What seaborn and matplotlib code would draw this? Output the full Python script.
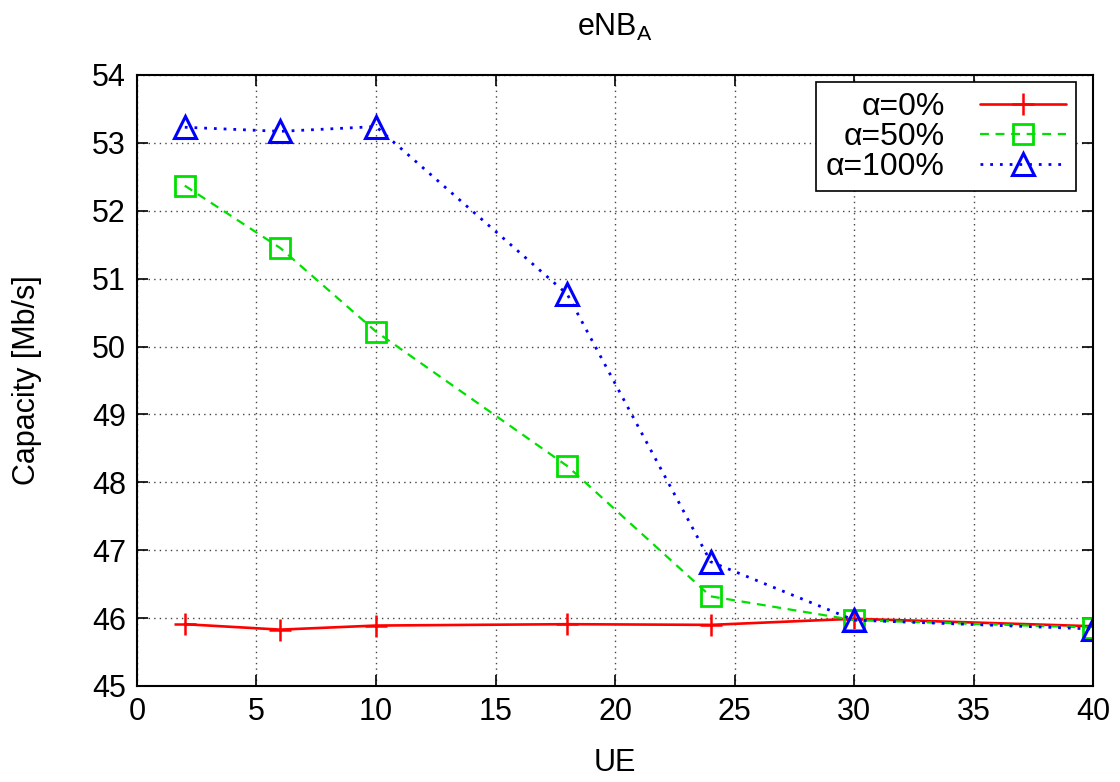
import seaborn as sns
import matplotlib
matplotlib.use("Agg")
import matplotlib.pyplot as plt
import pandas as pd

ue = [2, 6, 10, 18, 24, 30, 40]
cap_a0 = [45.91, 45.83, 45.89, 45.91, 45.90, 45.99, 45.88]
cap_a50 = [52.37, 51.45, 50.22, 48.24, 46.32, 45.97, 45.86]
cap_a100 = [53.23, 53.17, 53.24, 50.77, 46.83, 45.97, 45.84]
labels = ["\u03b1=0%", "\u03b1=50%", "\u03b1=100%"]

sns.set_theme(style="white")
plt.rcParams["font.family"] = ["Liberation Sans", "DejaVu Sans"]
plt.rcParams["mathtext.default"] = "regular"
plt.rcParams["text.color"] = "black"
plt.rcParams["axes.labelcolor"] = "black"

df = pd.DataFrame({"UE": ue * 3,
                   "cap": cap_a0 + cap_a50 + cap_a100,
                   "series": [labels[0]] * 7 + [labels[1]] * 7 + [labels[2]] * 7})

fig = plt.figure(figsize=(11.2, 7.82), dpi=100)
ax = fig.add_axes([0.1223, 0.1228, 0.8537, 0.7813])

styles = {
    labels[0]: dict(color="#ff0000", ls="-", marker="+", ms=16, mew=1.8, lw=1.9),
    labels[1]: dict(color="#00e000", ls=(0, (4, 3)), marker="s", ms=15, mew=2.0, mfc="none", lw=1.6),
    labels[2]: dict(color="#0000ff", ls=(0, (1, 2.5)), marker="^", ms=16, mew=2.2, mfc="none", lw=2.0),
}
for name in labels:
    st = styles[name]
    sns.lineplot(data=df[df.series == name], x="UE", y="cap", ax=ax, label=name,
                 color=st["color"], linestyle=st["ls"], marker=st["marker"],
                 markersize=st["ms"], markeredgewidth=st["mew"],
                 markerfacecolor=st.get("mfc", st["color"]),
                 markeredgecolor=st["color"], linewidth=st["lw"])

ax.set_xlim(0, 40)
ax.set_ylim(45, 54)
ax.set_xticks(range(0, 41, 5))
ax.set_yticks(range(45, 55))
ax.grid(True, color="#444444", linestyle=(0, (1, 3)), linewidth=1.0)
ax.tick_params(direction="in", length=8, width=1.2, labelsize=22,
               top=True, right=True, bottom=True, left=True, colors="black", pad=8)
for s in ax.spines.values():
    s.set_color("black")
    s.set_linewidth(1.5)

ax.set_xlabel("UE", fontsize=22, labelpad=15)
ax.set_ylabel("Capacity [Mb/s]", fontsize=22, labelpad=36)
ax.set_title("eNB$_A$", fontsize=22, pad=28)

leg = ax.legend(loc="upper right", markerfirst=False, fontsize=23, frameon=True,
                fancybox=False, edgecolor="black", framealpha=1,
                handlelength=2.7, borderpad=0.3, labelspacing=0.0,
                bbox_to_anchor=(0.982, 0.988), handletextpad=1.1,
                borderaxespad=0)
leg.get_frame().set_linewidth(1.2)
for t in leg.get_texts():
    t.set_ha("right")
leg._legend_box.align = "right"

fig.savefig("out.png", dpi=100)
